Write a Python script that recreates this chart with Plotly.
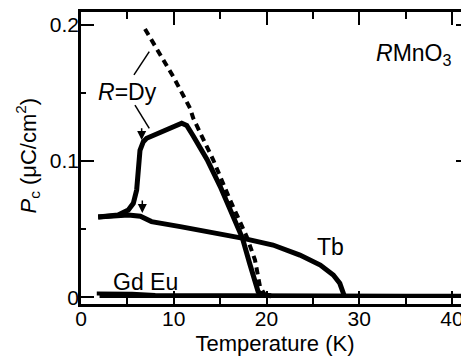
import plotly.graph_objects as go

# ---- data ----
dy_T = [1.85, 3.0, 4.0, 5.1, 5.64, 6.0, 6.18, 6.36, 6.72, 7.08, 10.86, 11.4, 12.1,
        13.6, 15.0, 16.4, 17.4, 18.2, 19.1, 19.5, 20.5]
dy_P = [0.059, 0.0598, 0.0604, 0.0641, 0.069, 0.0788, 0.0959, 0.108, 0.1143, 0.1168,
        0.1278, 0.1262, 0.1185, 0.101, 0.0815, 0.0604, 0.0435, 0.0245, 0.0041, 0.0018, 0.0012]

dy_dash_T = [6.9, 9.95, 11.76, 12.1, 14.26, 16.07, 17.87, 18.76, 19.3, 19.84]
dy_dash_P = [0.197, 0.162, 0.1388, 0.1315, 0.1008, 0.0715, 0.0445, 0.0274, 0.0078, 0.0017]

tb_T = [1.85, 4.0, 5.1, 6.4, 7.6, 10.7, 11.75, 15.35, 17.5, 20.7, 23.6, 25.8, 27.2,
        27.9, 28.3, 28.4]
tb_P = [0.059, 0.060, 0.0605, 0.0595, 0.0556, 0.0519, 0.0507, 0.0463, 0.0433, 0.0384,
        0.031, 0.0237, 0.0164, 0.0103, 0.0041, 0.0008]

gd_T = [1.7, 3.0, 5.5, 8.0, 15.0, 25.0, 35.0, 42.0]
gd_P = [0.0028, 0.003, 0.0027, 0.0018, 0.0015, 0.0013, 0.0012, 0.0012]

eu_T = [2.0, 10.0, 20.0, 30.0, 42.0]
eu_P = [0.001, 0.001, 0.0009, 0.0009, 0.0009]

x_tickvals = [0, 10, 20, 30, 40]
x_ticktext = ["0", "10", "20", "30", "40"]
y_tickvals = [0, 0.1, 0.2]
y_ticktext = ["0", "0.1", "0.2"]

X_RANGE = [0, 41.83]
Y_RANGE = [-0.0049, 0.2095]

FONT = "Liberation Sans, Arial, sans-serif"

fig = go.Figure()
fig.add_trace(go.Scatter(x=dy_T, y=dy_P, mode="lines", name="Dy",
                         line=dict(color="black", width=5)))
fig.add_trace(go.Scatter(x=dy_dash_T, y=dy_dash_P, mode="lines", name="Dy (dashed)",
                         line=dict(color="black", width=4, dash="7px,5px")))
fig.add_trace(go.Scatter(x=tb_T, y=tb_P, mode="lines", name="Tb",
                         line=dict(color="black", width=5)))
fig.add_trace(go.Scatter(x=gd_T, y=gd_P, mode="lines", name="Gd",
                         line=dict(color="black", width=4)))
fig.add_trace(go.Scatter(x=eu_T, y=eu_P, mode="lines", name="Eu", yaxis="y2",
                         line=dict(color="black", width=4)))

axis_common = dict(showgrid=False, zeroline=False, color="black", automargin=False,
                   tickfont=dict(family=FONT, size=21, color="black"))

# page body has an 8 px default margin, so the figure is 8 px smaller than the window
fig.update_layout(
    width=461, height=355,
    margin=dict(l=73, r=0, t=4, b=59),
    paper_bgcolor="white", plot_bgcolor="white",
    showlegend=False,
    font=dict(family=FONT, color="black"),
    xaxis=dict(range=X_RANGE, tickvals=x_tickvals, ticktext=x_ticktext,
               showline=True, linewidth=2.5, linecolor="black", mirror="ticks",
               ticks="inside", ticklen=13, tickwidth=2, tickcolor="black",
               ticklabelstandoff=-6,
               minor=dict(dtick=5, tick0=0, ticks="inside", ticklen=7, tickwidth=2,
                          tickcolor="black"),
               title=dict(text="Temperature (K)", font=dict(family=FONT, size=22),
                          standoff=7),
               **axis_common),
    yaxis=dict(range=Y_RANGE, tickvals=y_tickvals, ticktext=y_ticktext,
               showline=True, linewidth=2.5, linecolor="black", mirror=False,
               ticks="inside", ticklen=13, tickwidth=2, tickcolor="black",
               ticklabelstandoff=-5,
               minor=dict(dtick=0.05, tick0=0, ticks="inside", ticklen=5, tickwidth=2,
                          tickcolor="black"),
               **axis_common),
    yaxis2=dict(range=Y_RANGE, overlaying="y", side="right", showline=False,
                showticklabels=False, tickvals=y_tickvals, automargin=False,
                ticks="inside", ticklen=13, tickwidth=2, tickcolor="black",
                minor=dict(dtick=0.05, tick0=0, ticks="inside", ticklen=5, tickwidth=2,
                           tickcolor="black"),
                showgrid=False, zeroline=False),
)

# y-axis title
fig.add_annotation(xref="paper", yref="paper", x=-0.138, y=0.51, showarrow=False,
                   textangle=-90, xanchor="center", yanchor="middle",
                   text="<i>P</i><sub>c</sub> (μC/cm<sup>2</sup>)",
                   font=dict(family=FONT, size=22, color="black"))

ann_font = dict(family=FONT, size=23, color="black")
fig.add_annotation(x=35.8, y=0.178, xref="x", yref="y", showarrow=False,
                   text="<i>R</i>MnO<sub>3</sub>", font=ann_font)
fig.add_annotation(x=4.96, y=0.1508, xref="x", yref="y", showarrow=False,
                   text="<i>R</i>=Dy", font=ann_font)
fig.add_annotation(x=26.85, y=0.037, xref="x", yref="y", showarrow=False,
                   text="Tb", font=ann_font)
fig.add_annotation(x=6.9, y=0.0112, xref="x", yref="y", showarrow=False,
                   text="Gd Eu", font=ann_font)

# leader lines from the R=Dy label
fig.add_shape(type="line", xref="x", yref="y", x0=5.71, y0=0.1633, x1=7.36, y1=0.1804,
              line=dict(color="black", width=1.5))
fig.add_shape(type="line", xref="x", yref="y", x0=5.82, y0=0.1412, x1=7.36, y1=0.1241,
              line=dict(color="black", width=1.5))

# small down arrows marking the transitions
for xa, ytail, ytip in [(6.54, 0.1253, 0.1155), (6.61, 0.0722, 0.0619)]:
    fig.add_annotation(x=xa, y=ytip, ax=xa, ay=ytail, xref="x", yref="y",
                       axref="x", ayref="y", text="", showarrow=True,
                       arrowhead=2, arrowsize=1.2, arrowwidth=1.5, arrowcolor="black")

fig.write_html("out.html")
